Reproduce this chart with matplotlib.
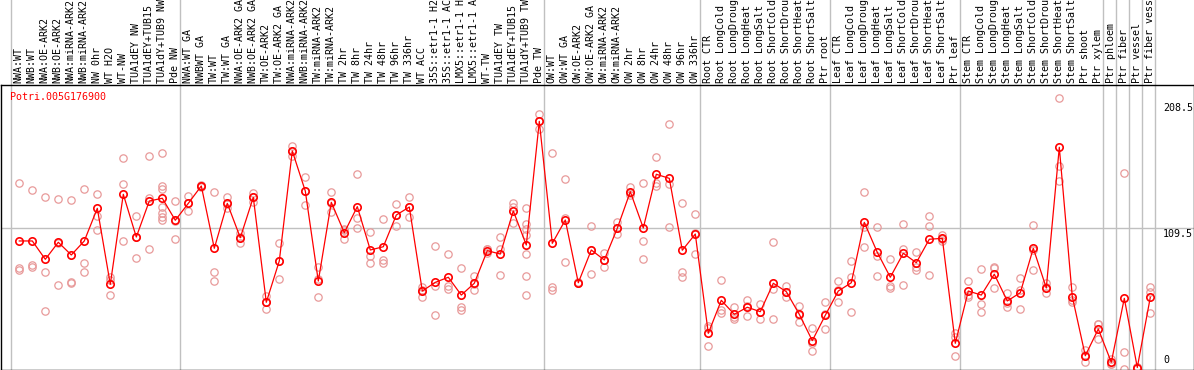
# Expression profile of Potri.005G176900 across poplar samples
import matplotlib
matplotlib.use("Agg")
import matplotlib.pyplot as plt
import matplotlib.transforms as mtransforms


# Data ........................................................................
gene = "Potri.005G176900"

samples = [
    "NWA:WT", "NWB:WT", "NWA:OE-ARK2", "NWB:OE-ARK2", "NWA:miRNA-ARK2",
    "NWB:miRNA-ARK2", "NW 0hr", "WT H2O", "WT-NW", "TUA1dEY NW",
    "TUA1dEY+TUB15 NW", "TUA1dY+TUB9 NW", "Pde NW",
    "NWA:WT GA", "NWBWT GA", "TW:WT", "TW:WT GA", "NWA:OE-ARK2 GA",
    "NWB:OE-ARK2 GA", "TW:OE-ARK2", "TW:OE-ARK2 GA", "NWA:miRNA-ARK2 GA",
    "NWB:miRNA-ARK2 GA", "TW:miRNA-ARK2", "TW:miRNA-ARK2", "TW 2hr", "TW 8hr",
    "TW 24hr", "TW 48hr", "TW 96hr", "TW 336hr", "WT ACC",
    "35S::etr1-1 H2O", "35S::etr1-1 ACC", "LMX5::etr1-1 H2O",
    "LMX5::etr1-1 ACC", "WT-TW", "TUA1dEY TW", "TUA1dEY+TUB15 TW",
    "TUA1dY+TUB9 TW", "Pde TW",
    "OW:WT", "OW:WT GA", "OW:OE-ARK2", "OW:OE-ARK2 GA", "OW:miRNA-ARK2",
    "OW:miRNA-ARK2", "OW 2hr", "OW 8hr", "OW 24hr", "OW 48hr", "OW 96hr",
    "OW 336hr",
    "Root CTR", "Root LongCold", "Root LongDrought", "Root LongHeat",
    "Root LongSalt", "Root ShortCold", "Root ShortDrought", "Root ShortHeat",
    "Root ShortSalt", "Ptr root",
    "Leaf CTR", "Leaf LongCold", "Leaf LongDrought", "Leaf LongHeat",
    "Leaf LongSalt", "Leaf ShortCold", "Leaf ShortDrought", "Leaf ShortHeat",
    "Leaf ShortSalt", "Ptr leaf",
    "Stem CTR", "Stem LongCold", "Stem LongDrought", "Stem LongHeat",
    "Stem LongSalt", "Stem ShortCold", "Stem ShortDrought", "Stem ShortHeat",
    "Stem ShortSalt", "Ptr shoot", "Ptr xylem",
    "Ptr phloem", "Ptr fiber", "Ptr vessel", "Ptr fiber vessel",
]

means = [
    99.8, 99.8, 85.8, 98.8, 89.1, 99.8, 124.7, 66.7, 135.4, 102.8,
    130.3, 132.4, 115.6, 128.5, 141.8, 94.2, 128.5, 102.3, 133.1, 53.0,
    84.5, 168.5, 137.9, 69.2, 129.3, 106.1, 126.0, 92.9, 95.4, 119.6,
    125.7, 61.6, 68.2, 72.1, 58.5, 67.5, 92.4, 89.8, 122.7, 96.7,
    191.1, 98.0, 115.8, 67.9, 92.9, 85.3, 109.5, 137.4, 109.7, 150.7,
    147.6, 92.7, 105.1, 29.3, 54.5, 43.8, 49.2, 45.8, 67.5, 61.1,
    43.8, 23.7, 43.1, 61.6, 67.9, 114.0, 91.1, 72.1, 90.4, 83.2,
    101.1, 101.8, 21.7, 61.6, 58.5, 74.4, 54.0, 60.3, 94.2, 63.9,
    171.3, 57.3, 12.2, 32.6, 7.2, 56.0, 3.2, 56.8,
]

replicates = [
    [143.8, 78.9, 77.6], [138.7, 81.5, 80.2], [133.6, 76.3, 46.3],
    [131.6, 66.2, 98.6], [131.1, 68.2, 68.0], [139.2, 82.7, 75.9],
    [135.4, 118.9, 108.2], [72.1, 70.0, 58.5], [162.9, 143.1, 100.0],
    [118.9, 86.6, 102.9], [164.7, 132.4, 93.4],
    [166.7, 141.8, 139.5, 125.5, 120.9, 118.3, 115.8],
    [130.3, 101.1, 115.4], [134.1, 122.7, 128.7], [142.5, 141.5, 141.3],
    [136.9, 75.9, 69.5], [133.1, 124.7, 127.7], [106.1, 98.0, 102.8],
    [136.6, 129.3, 133.4], [58.0, 47.9, 53.1], [98.0, 70.8, 84.7],
    [172.5, 164.9, 168.1], [148.4, 127.3, 138.0], [80.2, 56.8, 70.6],
    [136.9, 122.1, 128.9], [101.1, 108.5, 108.7], [150.9, 117.1, 109.5],
    [106.4, 88.5, 82.7], [116.6, 85.3, 83.2], [127.8, 111.2, 119.8],
    [133.4, 117.9, 125.8], [64.9, 57.3, 62.6], [96.0, 43.3, 65.3],
    [89.8, 65.4, 62.9], [78.9, 49.2, 47.1], [73.3, 62.4, 66.8],
    [90.4, 93.5, 93.3], [102.8, 93.4, 73.8], [129.0, 113.7, 125.4],
    [124.7, 112.5, 108.7, 104.4, 89.8, 73.1, 58.5],
    [196.7, 185.3, 191.3], [166.7, 64.9, 62.4], [146.9, 83.5, 117.0],
    [67.9, 67.5, 68.3], [111.2, 74.6, 92.9], [90.4, 80.2, 85.3],
    [114.0, 105.1, 109.4], [140.8, 136.2, 135.2], [143.8, 99.8, 85.8],
    [163.7, 144.3, 141.8], [188.9, 143.1, 110.2], [128.5, 75.9, 72.5],
    [120.2, 89.6, 105.5], [35.1, 19.8, 33.0], [69.8, 47.1, 45.0],
    [49.4, 40.0, 42.0], [54.7, 42.7, 50.2], [51.7, 40.0, 45.7],
    [98.8, 63.1, 40.0], [65.4, 56.8, 61.1], [50.2, 38.2, 43.0],
    [33.1, 21.7, 16.0], [53.0, 32.4, 43.9], [69.2, 53.0, 62.6],
    [84.5, 72.1, 45.3], [136.9, 95.0, 110.1], [110.7, 88.5, 73.3],
    [85.8, 65.6, 64.1], [112.5, 93.7, 66.2], [91.1, 80.2, 77.6],
    [119.1, 111.2, 73.8], [104.4, 100.0, 101.0], [29.3, 26.3, 12.2],
    [69.2, 56.8, 58.8], [78.2, 51.7, 45.3], [80.2, 63.7, 79.3],
    [59.8, 49.6, 52.6], [71.3, 47.6, 62.0], [112.0, 77.4, 93.2],
    [67.5, 59.8, 64.4], [208.7, 157.3, 145.8], [64.4, 53.0, 54.5],
    [16.6, 7.2, 12.8], [36.4, 24.7, 36.7], [9.7, 6.0, 5.9],
    [151.5, 14.8, 1.7], [2.5, 3.5, 3.6], [64.9, 61.1, 44.6],
]

# First sample index of each group (last entry closes the final group)
group_starts = [0, 13, 41, 53, 63, 73, 84, 85, 86, 87, 88]

y_ticks = ["208.5", "109.5", "0"]
y_tick_values = [208.5, 109.5, 0]
y_gridline = 109.5


# Layout (pixels) .............................................................
W, H = 1194, 370
left, right = 0.5, 1193.5
plot_top, plot_bottom = 85, 369.5
x0_px, step_px = 19.3, 13.0       # pixel of first sample, pixel per sample
y0_px, px_per_unit = 371.7, 1.31  # pixel of value 0, pixel per unit

plt.rcParams["font.family"] = ["DejaVu Sans Mono"]
fs = 7.2
red = "#ff0000"
pink = "#e89a9a"
gray = "#c0c0c0"

fig = plt.figure(figsize=(W / 100, H / 100), dpi=100)
ax = fig.add_axes([left / W, (H - plot_bottom) / H,
                   (right - left) / W, (plot_bottom - plot_top) / H])
ax.set_xlim((left - x0_px) / step_px, (right - x0_px) / step_px)
ax.set_ylim((y0_px - plot_bottom) / px_per_unit, (y0_px - plot_top) / px_per_unit)
ax.set_xticks([]); ax.set_yticks([])
for s in ax.spines.values():
    s.set_linewidth(1.0); s.set_color("black")

# Group separators, running up through the label band
top_frac = plot_bottom / (plot_bottom - plot_top)
for b in group_starts:
    ax.axvline(b - 0.64, 0, top_frac, color=gray, lw=1.0, clip_on=False, zorder=0)
ax.axhline(y_gridline, color=gray, lw=1.0, zorder=0)

# Replicates, then mean line with circles
xs = list(range(len(means)))
rep_x = [i for i, r in enumerate(replicates) for _ in r]
rep_y = [v for r in replicates for v in r]
ax.plot(rep_x, rep_y, "o", ls="none", mfc="none", mec=pink, ms=5.3, mew=0.9, zorder=2)
ax.plot(xs, means, "-", color=red, lw=0.9, zorder=3)
ax.plot(xs, means, "o", ls="none", mfc="none", mec=red, ms=5.3, mew=1.2, zorder=4)

# Sample labels, vertical, in the band above the plot
trans_top = mtransforms.blended_transform_factory(ax.transData, fig.transFigure)
for i, name in enumerate(samples):
    ax.text(i - 0.05, (H - 83) / H, name, rotation=90, ha="center", va="bottom",
            fontsize=fs, transform=trans_top, clip_on=False)

# Gene name
fig.text(10 / W, (H - 100) / H, gene, color=red, fontsize=fs, va="baseline")

# Value labels on the right
trans_right = mtransforms.blended_transform_factory(fig.transFigure, ax.transData)
offsets_px = [-4.5, -0.5, 6.5]
for lab, v, off in zip(y_ticks, y_tick_values, offsets_px):
    tr = trans_right + mtransforms.ScaledTranslation(0, off / 100, fig.dpi_scale_trans)
    va = "top" if off <= 0 else "bottom"
    ax.text(1163 / W, v, lab, fontsize=fs, ha="left", va=va, transform=tr, clip_on=False)

fig.savefig("out.png", dpi=100)
